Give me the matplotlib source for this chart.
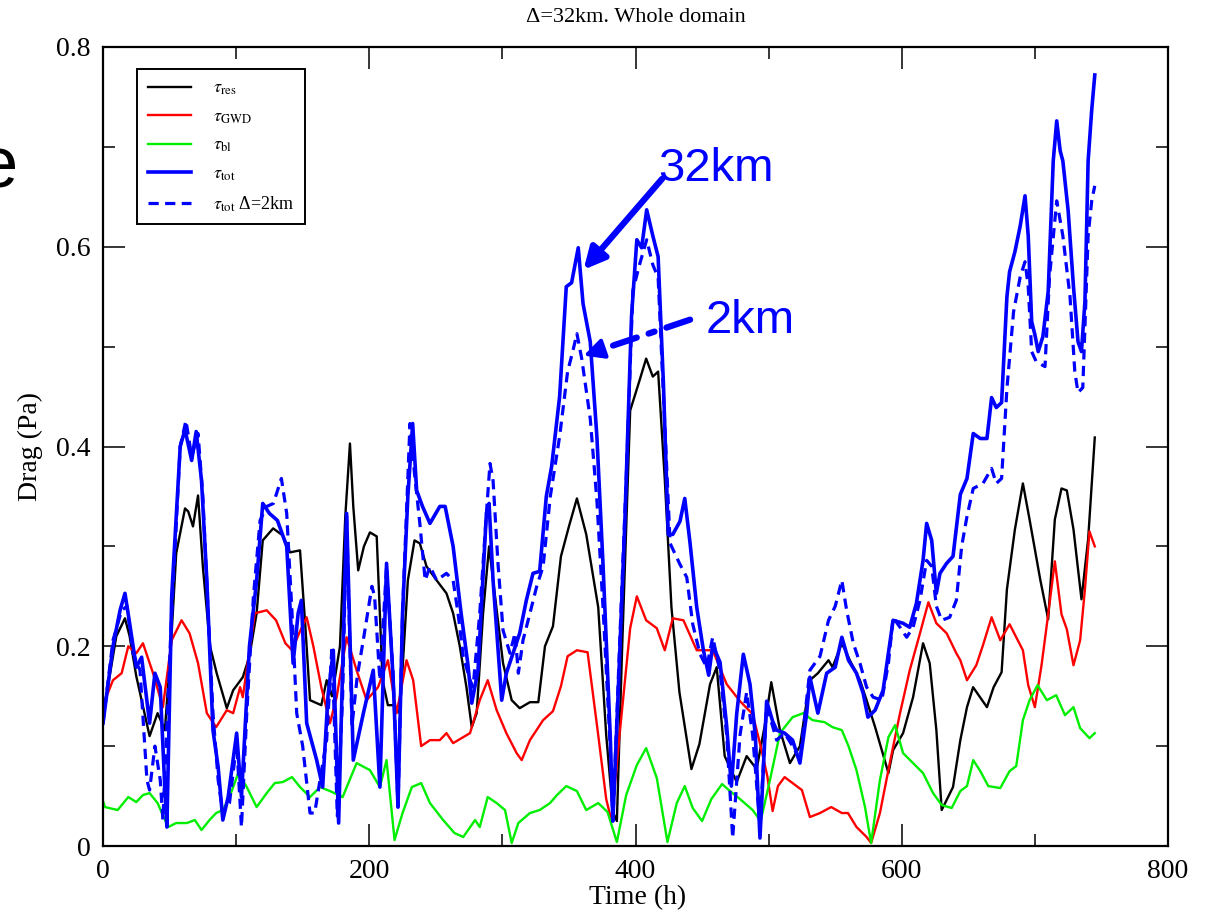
import matplotlib
matplotlib.use("Agg")
import matplotlib.pyplot as plt
from matplotlib.ticker import MultipleLocator, FixedLocator, FixedFormatter

# Drag time series (hour, Pa)
res_pts = [(0,0.13),(5,0.17),(10,0.21),(16.5,0.228),(20,0.21),(25,0.17),(30,0.14),(35,0.11),(41,0.133),(46.5,0.116),
           (51,0.2),(55,0.293),(61.6,0.338),(64,0.335),(67.6,0.32),(71.4,0.351),(75,0.28),(80.4,0.2),(85.4,0.173),(93,0.138),
           (97.8,0.156),(105,0.169),(110,0.19),(115.4,0.233),(120,0.306),(127.8,0.318),(135,0.311),(140.5,0.294),(148,0.296),(152,0.22),
           (155.5,0.146),(164,0.141),(168,0.166),(172,0.15),(178,0.2),(182,0.33),(185.5,0.403),(188,0.34),(191.7,0.276),(196,0.3),
           (200.5,0.314),(205.6,0.31),(210,0.166),(214,0.141),(219,0.141),(223,0.133),(229,0.266),(234,0.306),(238,0.303),(243,0.28),
           (250.6,0.266),(258,0.253),(263,0.233),(268,0.2),(273,0.159),(277,0.119),(280.7,0.133),(285.5,0.233),(290,0.3),(294.5,0.25),
           (300.5,0.183),(307,0.146),(313,0.138),(320.7,0.144),(327,0.144),(332,0.2),(338,0.22),(344,0.29),(350,0.32),(356,0.348),
           (363,0.312),(372,0.239),(378,0.111),(383,0.034),(386,0.025),(390,0.2),(396,0.436),(403,0.466),(408,0.488),(413,0.47),
           (417,0.475),(422,0.367),(427,0.239),(433,0.154),(442,0.077),(448,0.102),(456,0.162),(461,0.179),(467,0.09),(476,0.064),
           (483.5,0.09),(491,0.077),(497,0.12),(502,0.164),(508.5,0.116),(516,0.083),(523.5,0.1),(531,0.166),(537,0.173),(545,0.186),
           (548,0.179),(555,0.203),(561,0.186),(568.6,0.166),(573.6,0.146),(580,0.119),(590,0.073),(593.5,0.096),(601,0.113),(608.5,0.149),
           (616,0.203),(621,0.183),(626,0.116),(630,0.036),(638.5,0.059),(644,0.106),(649,0.139),(653.6,0.159),(664,0.139),(669,0.159),
           (675,0.174),(679,0.257),(685,0.317),(691,0.363),(696,0.327),(700,0.297),(704,0.267),(710,0.227),(715,0.327),(720,0.358),
           (724,0.356),(729,0.317),(735,0.247),(740,0.307),(745,0.409)]

gwd_pts = [(0,0.14),(1.5,0.146),(7.5,0.166),(14,0.173),(19,0.2),(25,0.193),(30,0.203),(37.6,0.173),(45,0.139),(51.6,0.206),
           (59,0.226),(65,0.213),(71.4,0.183),(78,0.133),(85,0.119),(93,0.136),(97.8,0.133),(103,0.159),(105,0.149),(114,0.233),
           (123,0.236),(130,0.226),(137,0.203),(142,0.196),(148,0.215),(153,0.229),(158,0.2),(164,0.159),(170.5,0.123),(175.5,0.149),
           (183,0.209),(190.5,0.176),(198,0.146),(206.6,0.159),(214,0.186),(220.6,0.133),(228,0.186),(233,0.166),(239,0.1),(245.6,0.106),
           (253,0.106),(258,0.113),(263,0.103),(275.7,0.113),(283,0.146),(289,0.166),(295.7,0.136),(303,0.113),(310.7,0.093),(314.5,0.086),
           (320.7,0.106),(330.6,0.126),(338,0.135),(344,0.16),(349,0.19),(356,0.196),(364,0.194),(372,0.111),(378,0.047),(382,0.025),
           (388,0.111),(396,0.218),(401,0.25),(408,0.226),(416,0.218),(422,0.196),(428,0.228),(436,0.226),(446,0.196),(458,0.196),
           (468.5,0.162),(478.5,0.145),(488,0.132),(494,0.1),(499,0.07),(503,0.035),(507,0.06),(512,0.069),(518,0.063),(525,0.056),
           (531,0.029),(538.6,0.033),(547,0.039),(555,0.033),(559.6,0.033),(566,0.019),(573.6,0.009),(577,0.003),(583.6,0.033),(591,0.083),
           (598.7,0.133),(606,0.176),(613.7,0.213),(620,0.244),(626,0.223),(633.7,0.213),(641,0.193),(644,0.186),(649,0.166),(656,0.181),
           (661,0.201),(667.5,0.229),(674,0.206),(681,0.222),(691,0.196),(695,0.161),(700,0.139),(705,0.181),(710,0.232),(715,0.285),
           (720,0.232),(724,0.217),(729,0.181),(734,0.206),(737.6,0.257),(741,0.315),(745,0.3)]

bl_pts = [(0,0.045),(1.5,0.039),(11,0.036),(19,0.049),(25,0.044),(30,0.051),(35,0.053),(41,0.043),(46.6,0.026),(49,0.019),
          (55,0.023),(63,0.023),(69,0.026),(74,0.016),(80,0.026),(85,0.033),(90,0.036),(95,0.049),(101.6,0.073),(108,0.059),
          (115.4,0.039),(123,0.053),(129,0.063),(135,0.064),(142,0.069),(148,0.059),(155.5,0.049),(163,0.059),(170.5,0.055),(180,0.049),
          (190.5,0.083),(200.5,0.076),(208,0.059),(213,0.086),(219,0.006),(225,0.033),(232,0.059),(239,0.063),(245.6,0.043),(255.5,0.026),
          (264,0.013),(270.6,0.009),(279.5,0.026),(283,0.019),(289,0.049),(295.7,0.043),(302,0.036),(307,0.003),(312,0.023),(320.7,0.033),
          (328,0.036),(335.8,0.043),(341,0.051),(348,0.06),(356,0.055),(363,0.036),(372,0.043),(379,0.034),(386,0.004),(393,0.051),
          (401,0.081),(408,0.098),(416,0.068),(424,0.004),(431,0.043),(437,0.06),(443,0.038),(450,0.025),(457,0.047),(465,0.062),
          (471,0.055),(478.5,0.047),(488,0.036),(494,0.025),(501,0.066),(508.5,0.113),(518,0.129),(526,0.133),(533,0.126),(542,0.124),
          (548,0.119),(555,0.116),(560,0.1),(566,0.076),(572.4,0.039),(577,0.003),(583.6,0.066),(590,0.109),(595,0.121),(601,0.093),
          (608.5,0.083),(616,0.073),(623.5,0.053),(630,0.041),(637.5,0.038),(644,0.055),(649,0.06),(653.7,0.086),(659,0.075),(665,0.06),
          (674,0.058),(681,0.075),(686,0.08),(691,0.126),(696,0.146),(702,0.161),(709,0.146),(716,0.151),(722.6,0.131),(729,0.139),
          (734,0.118),(741,0.108),(745,0.113)]

tot32_pts = [(0,0.123),(7.5,0.2),(12.8,0.236),(16.5,0.253),(20,0.223),(25,0.179),(29,0.189),(35,0.123),(39,0.173),(43,0.159),
             (46.6,0.053),(48,0.019),(51.6,0.25),(58,0.4),(61.6,0.417),(66.6,0.386),(70,0.415),(74,0.366),(78,0.266),(82.6,0.116),
             (86.5,0.079),(90,0.026),(94,0.049),(100.4,0.113),(104,0.049),(110,0.2),(115.4,0.266),(120,0.343),(125,0.333),(131,0.326),
             (138,0.3),(142.8,0.183),(146.6,0.233),(149,0.246),(153,0.123),(160.5,0.086),(165,0.059),(169,0.15),(173,0.196),(177,0.023),
             (183,0.333),(188,0.086),(195.6,0.133),(203,0.176),(208,0.059),(213,0.283),(218,0.166),(221.6,0.039),(225,0.233),(229,0.35),
             (232.6,0.423),(235.6,0.356),(240,0.34),(245.6,0.323),(253,0.34),(257,0.34),(263,0.3),(269,0.233),(274,0.183),(277,0.143),
             (281.7,0.176),(288,0.333),(290,0.343),(293,0.266),(299.5,0.146),(303,0.173),(308,0.193),(313,0.213),(318,0.246),(323,0.273),
             (328,0.275),(333,0.35),(337,0.38),(343,0.45),(348,0.56),(352,0.564),(357,0.599),(360.6,0.543),(366,0.505),(371,0.41),
             (375.6,0.282),(381,0.111),(383,0.025),(387,0.154),(392,0.325),(397,0.53),(401,0.607),(404.6,0.599),(408.4,0.637),(413,0.611),
             (417,0.59),(421,0.462),(424.6,0.312),(428,0.312),(433.4,0.325),(437,0.348),(441,0.303),(446,0.239),(451,0.196),(455,0.171),
             (458,0.201),(463.5,0.184),(468.5,0.12),(472,0.06),(476,0.132),(481,0.192),(486,0.162),(490,0.111),(493.5,0.008),(498.5,0.145),
             (503,0.125),(506,0.116),(512,0.113),(518,0.106),(523.5,0.083),(528.6,0.133),(531,0.169),(537,0.133),(543.6,0.173),(550,0.179),
             (555,0.209),(560,0.186),(566,0.173),(571,0.153),(574.6,0.129),(580,0.136),(586,0.156),(593.5,0.226),(601,0.223),(606,0.219),
             (611,0.243),(616,0.286),(618.7,0.323),(622.5,0.306),(626,0.253),(628.7,0.273),(633.7,0.283),(638.5,0.29),(644,0.352),(649,0.368),
             (653.7,0.413),(659,0.408),(664,0.408),(667.5,0.449),(671,0.439),(675,0.444),(679,0.55),(681,0.575),(685,0.595),(689,0.621),
             (692.6,0.651),(695,0.611),(697.6,0.525),(700,0.512),(702.5,0.495),(706,0.51),(710,0.555),(713.8,0.686),(716.4,0.726),(719,0.696),
             (721,0.686),(725,0.636),(729,0.56),(732.4,0.505),(735,0.495),(737.6,0.545),(740,0.686),(742.7,0.737),(745,0.772)]

tot2_pts = [(0,0.123),(7.5,0.206),(14,0.236),(18,0.24),(22.6,0.193),(27.8,0.176),(33,0.066),(35,0.056),(39,0.1),(43,0.066),
            (45,0.026),(51.6,0.233),(58,0.4),(62.3,0.426),(66.6,0.39),(71.4,0.413),(75,0.35),(79,0.233),(82.6,0.133),(86.5,0.066),
            (90,0.033),(95,0.043),(100.4,0.103),(104,0.019),(108,0.133),(113,0.25),(118,0.326),(123,0.34),(128,0.343),(134,0.368),
            (138,0.333),(142,0.233),(145.5,0.133),(150,0.1),(155.5,0.033),(159,0.033),(163,0.066),(168,0.106),(172,0.2),(176,0.03),
            (180,0.15),(183,0.33),(187,0.12),(191,0.17),(196,0.21),(202,0.26),(204,0.25),(208,0.166),(213,0.28),(218,0.17),
            (221.6,0.039),(225,0.233),(230.6,0.423),(234,0.373),(238,0.323),(242,0.266),(245.6,0.28),(250.6,0.266),(258,0.273),(263,0.266),
            (266.7,0.233),(270.6,0.19),(275.7,0.166),(278,0.159),(283,0.233),(288,0.333),(290.7,0.383),(293,0.366),(296.7,0.283),(300.5,0.216),
            (305.7,0.193),(309.5,0.213),(312,0.173),(315.5,0.206),(320.7,0.233),(325.8,0.26),(330.6,0.28),(336,0.35),(343,0.41),(349,0.475),
            (353,0.496),(356,0.513),(359.6,0.488),(366,0.428),(371,0.346),(375.6,0.239),(381,0.1),(383,0.025),(388,0.2),(393,0.367),
            (398,0.556),(403,0.582),(408.4,0.607),(413,0.582),(417,0.569),(421,0.45),(426,0.303),(433.4,0.282),(438.5,0.269),(443,0.222),
            (448.5,0.192),(453.5,0.179),(458,0.209),(463.5,0.175),(468.5,0.111),(473,0.008),(478.5,0.111),(483.5,0.154),(488,0.111),(493.5,0.02),
            (498.5,0.14),(503,0.12),(506,0.106),(512,0.113),(518,0.1),(523.5,0.086),(531,0.176),(538.6,0.19),(545,0.226),(550,0.24),
            (555,0.266),(558.6,0.236),(563.6,0.203),(568.6,0.183),(573.6,0.159),(578.5,0.149),(585,0.146),(590,0.183),(593.5,0.229),(598.7,0.219),
            (603.7,0.209),(608.5,0.219),(613.7,0.246),(618.7,0.286),(622.5,0.28),(626,0.24),(630,0.226),(636,0.229),(641,0.246),(645,0.3),
            (649,0.33),(653.7,0.358),(661,0.363),(667.5,0.378),(671,0.363),(675,0.368),(679,0.458),(684,0.535),(689,0.57),(692.6,0.585),
            (695,0.56),(697.6,0.495),(701,0.485),(707.6,0.48),(711,0.57),(716.4,0.646),(721,0.611),(726.4,0.55),(730,0.475),(732.4,0.454),
            (736,0.459),(740,0.611),(742.7,0.646),(745,0.661)]

series_labels = [r'$\tau_{\rm res}$', r'$\tau_{\rm GWD}$', r'$\tau_{\rm bl}$', r'$\tau_{\rm tot}$', r'$\tau_{\rm tot}$ Δ=2km']
x_ticks = [0, 200, 400, 600, 800]
y_ticks = [0, 0.2, 0.4, 0.6, 0.8]
x_ticklabels = ['0', '200', '400', '600', '800']
y_ticklabels = ['0', '0.2', '0.4', '0.6', '0.8']

plt.rcParams['font.family'] = ['Liberation Serif', 'DejaVu Serif']
plt.rcParams['mathtext.fontset'] = 'stix'

W, H = 1206, 916
fig = plt.figure(figsize=(W / 100, H / 100), dpi=100)
ax = fig.add_axes([103 / W, 1 - 846 / H, 1065 / W, 799 / H])

def split(pts):
    return [p[0] for p in pts], [p[1] for p in pts]

styles = [
    (res_pts, dict(color='black', lw=1.7)),
    (gwd_pts, dict(color='#ff0000', lw=1.7)),
    (bl_pts, dict(color='#00ee00', lw=1.7)),
    (tot32_pts, dict(color='#0000ff', lw=2.6)),
    (tot2_pts, dict(color='#0000ff', lw=2.3, linestyle=(0, (3.2, 2)))),
]
for (pts, kw), lab in zip(styles, series_labels):
    t, v = split(pts)
    ax.plot(t, v, label=lab, **kw)

ax.set_xlim(0, 800)
ax.set_ylim(0, 0.8)
ax.xaxis.set_major_locator(FixedLocator(x_ticks))
ax.xaxis.set_major_formatter(FixedFormatter(x_ticklabels))
ax.yaxis.set_major_locator(FixedLocator(y_ticks))
ax.yaxis.set_major_formatter(FixedFormatter(y_ticklabels))
ax.xaxis.set_minor_locator(MultipleLocator(100))
ax.yaxis.set_minor_locator(MultipleLocator(0.1))
ax.tick_params(which='both', direction='in', top=True, right=True, width=1.1, color='black')
ax.tick_params(which='major', length=16, labelsize=20, pad=9)
ax.tick_params(which='minor', length=8.5)
for s in ax.spines.values():
    s.set_linewidth(1.6)

fig.text(635.5 / W, 1 - 17 / H, 'Δ=32km. Whole domain', ha='center', va='center', fontsize=16)
fig.text(638 / W, 1 - 898 / H, 'Time (h)', ha='center', va='center', fontsize=20)
fig.text(30 / W, 1 - 446 / H, 'Drag (Pa)', ha='center', va='center', rotation=90, fontsize=20)

leg = ax.legend(loc='upper left', bbox_to_anchor=(34 / 1065, 1 - 22 / 799), borderaxespad=0,
                fancybox=False, edgecolor='black', framealpha=1, fontsize=13,
                handlelength=2.4, handletextpad=1.2, labelspacing=0.62, borderpad=0.6)
leg.get_frame().set_linewidth(1.4)

# Arrows pointing at the two total-drag peaks
blue = '#0000ff'
ax.annotate('', xy=(361, 0.577), xytext=(420, 0.668),
            arrowprops=dict(arrowstyle='-|>', color=blue, lw=4.5, mutation_scale=32, shrinkA=0, shrinkB=0))
ax.annotate('', xy=(374, 0.497), xytext=(441, 0.527),
            arrowprops=dict(arrowstyle='-', color=blue, lw=4.5, linestyle=(0, (4, 2, 1, 2)), shrinkA=0, shrinkB=0))
ax.annotate('', xy=(361, 0.491), xytext=(372, 0.496),
            arrowprops=dict(arrowstyle='-|>', color=blue, lw=3, mutation_scale=30, shrinkA=0, shrinkB=0))
ax.text(417, 0.678, '32km', color=blue, fontsize=34, family='Liberation Sans', ha='left', va='center')
ax.text(453, 0.526, '2km', color=blue, fontsize=34, family='Liberation Sans', ha='left', va='center')

fig.text(-22 / W, 1 - 188 / H, 'e', fontsize=52, family='Liberation Sans', ha='left', va='baseline')

fig.savefig('out.png', dpi=100)
